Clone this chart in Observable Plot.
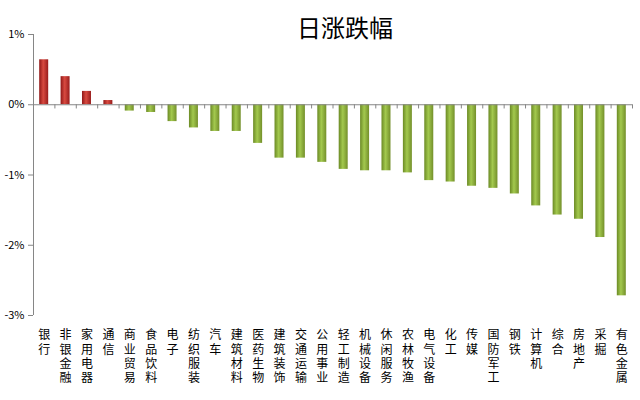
<!DOCTYPE html>
<html><head><meta charset="utf-8">
<script src="https://cdn.jsdelivr.net/npm/d3@7"></script>
<script src="https://cdn.jsdelivr.net/npm/@observablehq/plot@0.6"></script>
<style>body{margin:0;background:#fff;} svg{display:block;}</style>
</head><body><div id="chart"></div>
<script>
const title = "日涨跌幅";
const categories = ["银行","非银金融","家用电器","通信","商业贸易","食品饮料","电子","纺织服装","汽车","建筑材料","医药生物","建筑装饰","交通运输","公用事业","轻工制造","机械设备","休闲服务","农林牧渔","电气设备","化工","传媒","国防军工","钢铁","计算机","综合","房地产","采掘","有色金属"];
const values = [0.64,0.40,0.19,0.06,-0.09,-0.11,-0.24,-0.33,-0.38,-0.38,-0.55,-0.76,-0.76,-0.82,-0.92,-0.94,-0.94,-0.97,-1.08,-1.10,-1.16,-1.19,-1.27,-1.44,-1.57,-1.63,-1.89,-2.72];
const yTicks = [1,0,-1,-2,-3];

const W = 640, H = 400, mL = 33, mR = 8, mT = 34, mB = 85;
const step = (W - mL - mR) / categories.length;
const data = categories.map((c, i) => ({c, v: values[i]}));
const font = "'Noto Sans CJK SC', 'DejaVu Sans', sans-serif";
const axisColor = "#868686";
const tickLen = 0.06; // in % units, ~4px

const plot = Plot.plot({
  width: W, height: H,
  marginLeft: mL, marginRight: mR, marginTop: mT, marginBottom: mB,
  style: {fontFamily: font, background: "#fff", color: "#000"},
  x: {type: "band", domain: categories, paddingInner: 0.58, paddingOuter: 0.29, round: false, axis: null},
  y: {domain: [-3, 1], axis: null, label: null},
  marks: [
    Plot.barY(data.filter(d => d.v >= 0), {x: "c", y: "v", fill: "#c0392b"}),
    Plot.barY(data.filter(d => d.v < 0), {x: "c", y: "v", fill: "#8db33a"}),
    Plot.ruleY([0], {stroke: axisColor}),
    // vertical axis line at left edge of first band
    Plot.ruleX([categories[0]], {x: d => d, dx: -step / 2, y1: 1, y2: -3, stroke: axisColor}),
    // tick marks on zero line at band boundaries
    Plot.ruleX(categories, {x: d => d, dx: -step / 2, y1: 0, y2: -tickLen, stroke: axisColor}),
    Plot.ruleX([categories[categories.length - 1]], {x: d => d, dx: step / 2, y1: 0, y2: -tickLen, stroke: axisColor}),
    Plot.axisY({ticks: yTicks, tickFormat: d => d + "%", tickSize: 5, tickPadding: 4, stroke: axisColor, fontSize: 11, fill: "#000", label: null}),
    Plot.text(categories, {x: d => d, text: d => d.split("").join("\n"), frameAnchor: "bottom", lineAnchor: "top", dy: 14, fontSize: 12, lineHeight: 1.17, fill: "#000"}),
    Plot.text([title], {frameAnchor: "top", dy: -15, dx: 12, fontSize: 24, fill: "#000", text: d => d})
  ]
});

const ns = "http://www.w3.org/2000/svg";
const defs = document.createElementNS(ns, "defs");
defs.innerHTML = `
<linearGradient id="gRed" x1="0" x2="1" y1="0" y2="0">
  <stop offset="0" stop-color="#8f1717"/><stop offset="0.45" stop-color="#d84a40"/><stop offset="1" stop-color="#981c1c"/>
</linearGradient>
<linearGradient id="gGreen" x1="0" x2="1" y1="0" y2="0">
  <stop offset="0" stop-color="#6b8a25"/><stop offset="0.45" stop-color="#a3c94e"/><stop offset="1" stop-color="#738f2a"/>
</linearGradient>`;
plot.insertBefore(defs, plot.firstChild);
plot.querySelectorAll('g[fill="#c0392b"]').forEach(g => g.setAttribute("fill", "url(#gRed)"));
plot.querySelectorAll('g[fill="#8db33a"]').forEach(g => g.setAttribute("fill", "url(#gGreen)"));
document.getElementById("chart").appendChild(plot);
</script>
</body></html>
